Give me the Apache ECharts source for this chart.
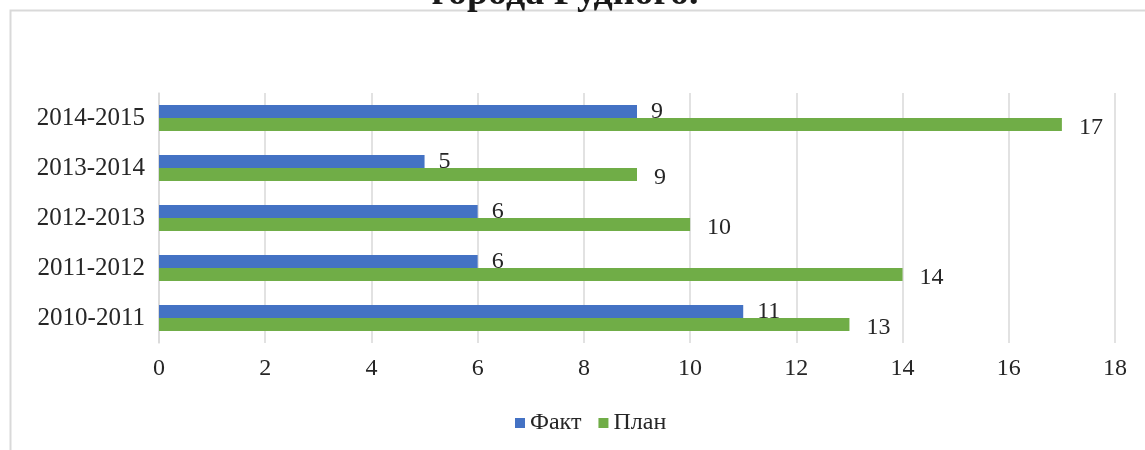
<!DOCTYPE html>
<html>
<head>
<meta charset="utf-8">
<script src="https://cdn.jsdelivr.net/npm/echarts@6/dist/echarts.min.js"></script>
<style>
html,body{margin:0;padding:0;background:#fff;}
#chart{width:1145px;height:450px;}
</style>
</head>
<body>
<div id="chart"></div>
<script>
const categories = ['2010-2011', '2011-2012', '2012-2013', '2013-2014', '2014-2015'];
const factValues = [11, 6, 6, 5, 9];
const planValues = [13, 14, 10, 9, 17];
const xTicks = { min: 0, max: 18, interval: 2 };
const titleText = 'города Рудного.';

const FONT = '"Liberation Serif", "Times New Roman", serif';
const chart = echarts.init(document.getElementById('chart'));
chart.setOption({
  animation: false,
  backgroundColor: '#fff',
  title: {
    text: titleText,
    left: 560,
    textAlign: 'center',
    top: -30,
    textStyle: { fontFamily: FONT, fontSize: 38, fontWeight: 'bold', color: '#1a1a1a' }
  },
  graphic: [{
    type: 'rect',
    shape: { x: 10.5, y: 10.5, width: 1300, height: 600 },
    style: { fill: '#fff', stroke: '#d9d9d9', lineWidth: 2 },
    z: -1,
    silent: true
  }],
  legend: {
    data: ['Факт', 'План'],
    bottom: 10,
    left: 510,
    itemWidth: 10,
    itemHeight: 10,
    itemGap: 17,
    icon: 'rect',
    textStyle: { fontFamily: FONT, fontSize: 24, color: '#262626' }
  },
  grid: { left: 159, right: 30, top: 93, bottom: 107, containLabel: false },
  xAxis: {
    type: 'value',
    min: xTicks.min, max: xTicks.max, interval: xTicks.interval,
    axisLine: { show: false },
    axisTick: { show: false },
    axisLabel: { fontFamily: FONT, fontSize: 24, color: '#262626', margin: 14 },
    splitLine: { lineStyle: { color: '#d9d9d9', width: 1.5 } }
  },
  yAxis: {
    type: 'category',
    data: categories,
    axisLine: { lineStyle: { color: '#d9d9d9', width: 1.5 } },
    axisTick: { show: false },
    axisLabel: { fontFamily: FONT, fontSize: 25, color: '#262626', margin: 14 }
  },
  series: [
    {
      name: 'Факт', type: 'bar', data: factValues,
      barWidth: 13, barGap: '0%',
      itemStyle: { color: '#4472C4' },
      label: { show: true, position: 'right', distance: 14, fontFamily: FONT, fontSize: 24, color: '#262626' }
    },
    {
      name: 'План', type: 'bar', data: planValues,
      barWidth: 13, barGap: '0%',
      itemStyle: { color: '#70AD47' },
      label: { show: true, position: 'right', distance: 17, offset: [0, 3], fontFamily: FONT, fontSize: 24, color: '#262626' }
    }
  ]
});
</script>
</body>
</html>
